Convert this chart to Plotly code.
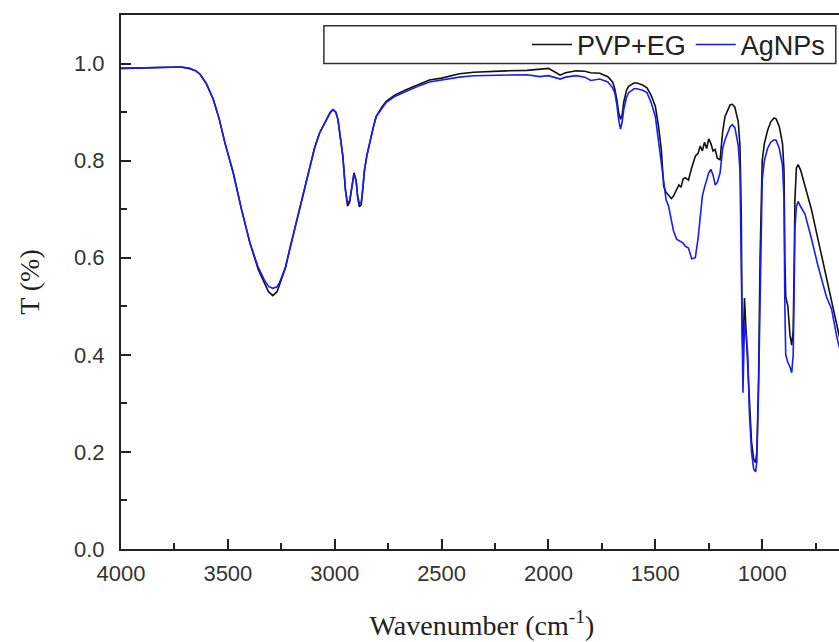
import plotly.graph_objects as go

# wavenumber grid (cm-1)
wavenumber = [
    4000, 3900, 3800, 3720, 3680, 3650, 3630, 3600, 3568, 3540, 3514, 3475, 3436, 3397, 3358,
    3330, 3310, 3290, 3270, 3257, 3230, 3211, 3190, 3164, 3140, 3117, 3095, 3071, 3040, 3020,
    3008, 2995, 2985, 2970, 2962, 2950, 2940, 2930, 2920, 2910, 2900, 2893, 2885, 2876, 2868,
    2861, 2850, 2837, 2820, 2806, 2780, 2759, 2720, 2666, 2600, 2557, 2500, 2417, 2350, 2266,
    2200, 2100, 2042, 2000, 1960, 1946, 1920, 1870, 1830, 1802, 1760, 1722, 1700, 1690, 1680,
    1672, 1663, 1655, 1648, 1635, 1625, 1600, 1586, 1560, 1539, 1520, 1500, 1485, 1472, 1461,
    1450, 1438, 1425, 1415, 1400, 1390, 1380, 1370, 1360, 1345, 1330, 1313, 1300, 1290, 1280,
    1270, 1260, 1250, 1240, 1230, 1220, 1210, 1197, 1185, 1174, 1160, 1150, 1140, 1128, 1120,
    1112, 1104, 1098, 1094, 1090, 1083, 1075, 1068, 1060, 1050, 1040, 1031, 1025, 1017, 1010,
    1000, 990, 975, 960, 945, 935, 920, 905, 898, 894, 890, 880, 870, 862, 855,
    850, 847, 840, 832, 820, 800, 770, 740, 700, 676, 650, 630,
]

pvp_eg = [
    0.990, 0.991, 0.992, 0.993, 0.990, 0.985, 0.978, 0.958, 0.926, 0.885, 0.837, 0.775, 0.699, 0.631, 0.576,
    0.548, 0.530, 0.522, 0.530, 0.546, 0.580, 0.617, 0.655, 0.699, 0.745, 0.788, 0.825, 0.857, 0.885, 0.900,
    0.905, 0.900, 0.885, 0.840, 0.809, 0.740, 0.706, 0.715, 0.745, 0.775, 0.760, 0.725, 0.705, 0.709, 0.745,
    0.780, 0.810, 0.836, 0.868, 0.891, 0.910, 0.922, 0.935, 0.946, 0.958, 0.966, 0.970, 0.979, 0.982, 0.984,
    0.985, 0.986, 0.988, 0.990, 0.980, 0.976, 0.981, 0.985, 0.984, 0.981, 0.980, 0.973, 0.962, 0.948, 0.925,
    0.900, 0.885, 0.895, 0.920, 0.945, 0.953, 0.960, 0.960, 0.956, 0.950, 0.935, 0.912, 0.870, 0.823, 0.747,
    0.735, 0.728, 0.722, 0.727, 0.740, 0.750, 0.745, 0.762, 0.765, 0.760, 0.785, 0.809, 0.815, 0.830, 0.820,
    0.838, 0.825, 0.845, 0.835, 0.820, 0.823, 0.805, 0.802, 0.860, 0.891, 0.905, 0.915, 0.916, 0.910, 0.895,
    0.880, 0.830, 0.690, 0.450, 0.400, 0.517, 0.440, 0.404, 0.300, 0.220, 0.185, 0.178, 0.200, 0.350, 0.600,
    0.800, 0.835, 0.862, 0.880, 0.888, 0.886, 0.870, 0.835, 0.780, 0.600, 0.520, 0.500, 0.440, 0.420, 0.450,
    0.600, 0.720, 0.785, 0.792, 0.780, 0.750, 0.700, 0.640, 0.560, 0.515, 0.460, 0.420,
]

agnps = [
    0.990, 0.991, 0.992, 0.993, 0.990, 0.985, 0.978, 0.958, 0.926, 0.885, 0.837, 0.775, 0.699, 0.631, 0.580,
    0.555, 0.541, 0.537, 0.540, 0.550, 0.582, 0.617, 0.655, 0.699, 0.745, 0.788, 0.825, 0.857, 0.885, 0.900,
    0.905, 0.900, 0.885, 0.840, 0.809, 0.740, 0.712, 0.718, 0.745, 0.772, 0.758, 0.728, 0.712, 0.714, 0.745,
    0.780, 0.810, 0.836, 0.868, 0.891, 0.908, 0.920, 0.932, 0.943, 0.955, 0.962, 0.966, 0.972, 0.975, 0.976,
    0.976, 0.977, 0.973, 0.975, 0.970, 0.968, 0.972, 0.975, 0.972, 0.965, 0.968, 0.962, 0.950, 0.940, 0.915,
    0.885, 0.865, 0.880, 0.905, 0.930, 0.940, 0.948, 0.948, 0.945, 0.940, 0.920, 0.891, 0.840, 0.790, 0.755,
    0.720, 0.706, 0.680, 0.655, 0.638, 0.635, 0.632, 0.630, 0.624, 0.620, 0.598, 0.600, 0.640, 0.690, 0.727,
    0.745, 0.760, 0.775, 0.782, 0.770, 0.750, 0.755, 0.775, 0.825, 0.843, 0.860, 0.870, 0.874, 0.868, 0.850,
    0.830, 0.780, 0.600, 0.400, 0.322, 0.466, 0.440, 0.404, 0.281, 0.200, 0.165, 0.159, 0.180, 0.330, 0.550,
    0.760, 0.800, 0.825, 0.838, 0.843, 0.842, 0.825, 0.790, 0.720, 0.500, 0.400, 0.384, 0.375, 0.363, 0.400,
    0.550, 0.660, 0.705, 0.716, 0.705, 0.690, 0.640, 0.585, 0.520, 0.495, 0.435, 0.400,
]

fig = go.Figure()
fig.add_trace(go.Scatter(x=wavenumber, y=pvp_eg, mode="lines", name="PVP+EG",
                         line=dict(color="#111111", width=1.6)))
fig.add_trace(go.Scatter(x=wavenumber, y=agnps, mode="lines", name="AgNPs",
                         line=dict(color="#1a1aff", width=1.6)))

axis_font = dict(family="Arial, Liberation Sans", size=22, color="#333333")
title_font = dict(family="Times New Roman, Liberation Serif", size=28, color="#222222")

# the original picture is cropped on the right, so the frame runs past the window edge
fig.update_xaxes(
    range=[4000, 622], autorange=False,
    tickmode="array", tickvals=[4000, 3500, 3000, 2500, 2000, 1500, 1000],
    ticks="inside", ticklen=10, tickwidth=1.5, tickcolor="#222",
    minor=dict(ticks="inside", ticklen=6, tickwidth=1.5, tickcolor="#222", dtick=250, tick0=0),
    showline=True, linecolor="#222", linewidth=2, mirror=True,
    showgrid=False, zeroline=False,
    tickfont=axis_font, ticklabelstandoff=4,
    title=dict(text="Wavenumber (cm<sup>-1</sup>)", font=title_font, standoff=30),
)
fig.update_yaxes(
    range=[0, 1.1], autorange=False,
    tickmode="array", tickvals=[0, 0.2, 0.4, 0.6, 0.8, 1.0],
    ticktext=["0.0", "0.2", "0.4", "0.6", "0.8", "1.0"],
    ticks="inside", ticklen=10, tickwidth=1.5, tickcolor="#222",
    minor=dict(ticks="inside", ticklen=6, tickwidth=1.5, tickcolor="#222", dtick=0.1, tick0=0),
    showline=True, linecolor="#222", linewidth=2, mirror=True,
    showgrid=False, zeroline=False,
    tickfont=axis_font, ticklabelstandoff=10,
    title=dict(text="T (%)", font=title_font, standoff=26),
)

# legend frame
fig.add_shape(type="rect", xref="paper", yref="paper", x0=0.281, x1=0.990, y0=0.909, y1=0.980,
              line=dict(color="#333333", width=1.5), fillcolor="rgba(0,0,0,0)")

fig.update_layout(
    width=845, height=642,
    margin=dict(l=121, r=0, t=15, b=93),
    plot_bgcolor="white", paper_bgcolor="white",
    legend=dict(orientation="h", x=0.982, xanchor="right", y=0.944, yanchor="middle",
                bgcolor="rgba(0,0,0,0)", borderwidth=0,
                font=dict(family="Arial, Liberation Sans", size=27, color="#222"),
                itemwidth=40, tracegroupgap=0),
    showlegend=True,
)

# page margin off so the figure sits at the window corner
fig.write_html("out.html", config={"displayModeBar": False},
               post_script="document.body.style.margin='0px';document.body.style.overflow='hidden';")
